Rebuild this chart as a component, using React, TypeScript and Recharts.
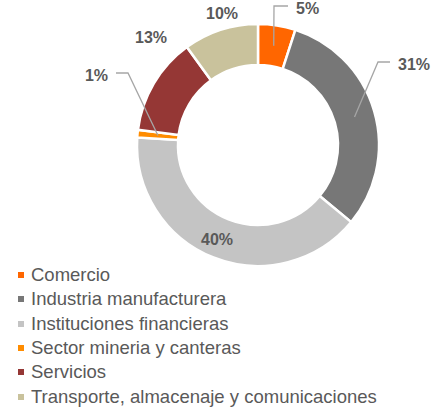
import { PieChart, Pie, Cell } from "recharts";

const sectors = [
  "Comercio",
  "Industria manufacturera",
  "Instituciones financieras",
  "Sector mineria y canteras",
  "Servicios",
  "Transporte, almacenaje y comunicaciones",
];
const shares = [5, 31, 40, 1, 13, 10];
const colors = ["#FF6600", "#777777", "#C4C4C4", "#FF8C00", "#953735", "#C9C29C"];

const data = sectors.map((name, i) => ({ name, value: shares[i] }));

const TEXT = "#595959";
const LINE = "#A6A6A6";
const FONT = "Arial, 'Liberation Sans', sans-serif";

// label placement, offsets relative to the pie centre
type LabelSpot =
  | { kind: "inside" }
  | { kind: "free"; dx: number; dy: number }
  | { kind: "leader"; ex: number; ey: number; arm: number };

const labelSpots: LabelSpot[] = [
  { kind: "leader", ex: 16, ey: -139, arm: 14 },
  { kind: "leader", ex: 120, ey: -83, arm: 12 },
  { kind: "inside" },
  { kind: "leader", ex: -130, ey: -72, arm: -12 },
  { kind: "free", dx: -107, dy: -108 },
  { kind: "free", dx: -36, dy: -132 },
];

const RAD = Math.PI / 180;

function renderLabel(props: any) {
  const { cx, cy, midAngle, innerRadius, outerRadius, index, value } = props;
  const spot = labelSpots[index];
  const text = `${value}%`;
  const mid = (innerRadius + outerRadius) / 2;
  const mx = cx + mid * Math.cos(-midAngle * RAD);
  const my = cy + mid * Math.sin(-midAngle * RAD);
  const style = { fontSize: 16, fontWeight: 700, fontFamily: FONT, fill: TEXT };

  if (spot.kind === "inside") {
    return (
      <text x={mx - 4} y={my + 1} textAnchor="middle" dominantBaseline="central" {...style}>
        {text}
      </text>
    );
  }
  if (spot.kind === "free") {
    return (
      <text x={cx + spot.dx} y={cy + spot.dy} textAnchor="middle" dominantBaseline="central" {...style}>
        {text}
      </text>
    );
  }
  const ex = cx + spot.ex;
  const ey = cy + spot.ey;
  const endX = ex + spot.arm;
  const right = spot.arm > 0;
  return (
    <g>
      <polyline
        points={`${mx},${my} ${ex},${ey} ${endX},${ey}`}
        fill="none"
        stroke={LINE}
        strokeWidth={1.3}
      />
      <text
        x={endX + (right ? 8 : -8)}
        y={ey + 2}
        textAnchor={right ? "start" : "end"}
        dominantBaseline="central"
        {...style}
      >
        {text}
      </text>
    </g>
  );
}

function SectorLegend() {
  return (
    <ul style={{ position: "absolute", top: 263, left: 18, listStyle: "none", margin: 0, padding: 0 }}>
      {sectors.map((name, i) => (
        <li
          key={name}
          style={{
            display: "flex",
            alignItems: "center",
            height: 24.3,
            fontSize: 18.5,
            lineHeight: "20px",
            fontFamily: FONT,
            color: TEXT,
            whiteSpace: "nowrap",
          }}
        >
          <span
            style={{
              display: "inline-block",
              width: 6,
              height: 6,
              background: colors[i],
              marginRight: 7,
            }}
          />
          {name}
        </li>
      ))}
    </ul>
  );
}

export default function App() {
  return (
    <div
      style={{
        position: "fixed",
        top: 0,
        left: 0,
        width: 435,
        height: 409,
        background: "#fff",
        overflow: "hidden",
      }}
    >
      <PieChart width={435} height={409} margin={{ top: 0, right: 0, bottom: 0, left: 0 }}>
        <Pie
          data={data}
          dataKey="value"
          nameKey="name"
          cx={258}
          cy={145}
          innerRadius={80}
          outerRadius={121}
          startAngle={90}
          endAngle={-270}
          stroke="#ffffff"
          strokeWidth={2.5}
          label={renderLabel}
          labelLine={false}
          isAnimationActive={false}
        >
          {data.map((d, i) => (
            <Cell key={d.name} fill={colors[i]} />
          ))}
        </Pie>
      </PieChart>
      <SectorLegend />
    </div>
  );
}
